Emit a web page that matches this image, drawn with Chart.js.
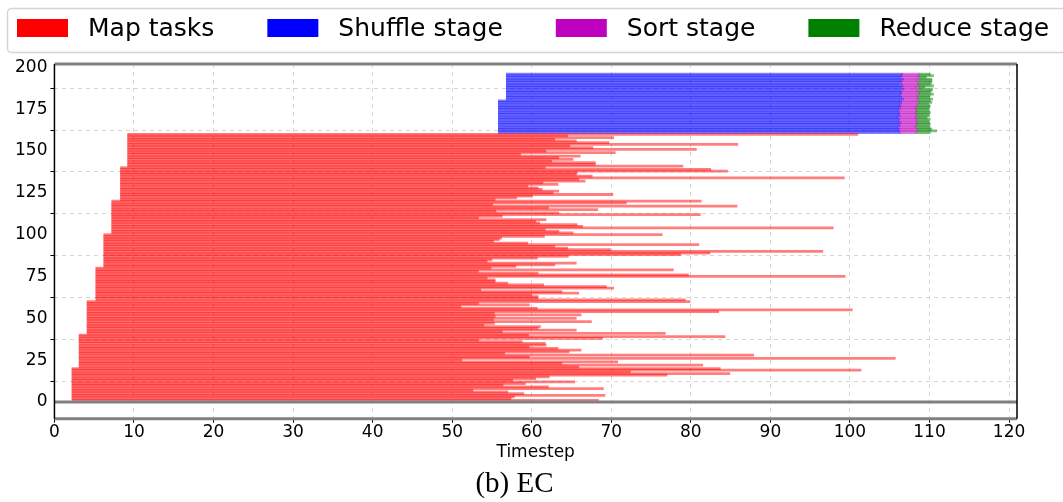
<!DOCTYPE html>
<html>
<head>
<meta charset="utf-8">
<script src="https://cdn.jsdelivr.net/npm/chart.js@4.4.1/dist/chart.umd.min.js"></script>
<style>
  html, body { margin: 0; padding: 0; background: #fff; }
  #wrap { width: 1063px; height: 502px; position: relative; }
</style>
</head>
<body>
<div id="wrap"><canvas id="chart"></canvas></div>
<script>
// Legend entries
const legendLabels = ['Map tasks', 'Shuffle stage', 'Sort stage', 'Reduce stage'];
const legendColors = ['#ff0000', '#0000ff', '#bf00bf', '#008000'];

// Axis ticks
const xTicks = [0, 10, 20, 30, 40, 50, 60, 70, 80, 90, 100, 110, 120];
const yTicks = [0, 25, 50, 75, 100, 125, 150, 175, 200];

// Map tasks 1..160, started in waves of 20
const mapWaveStart = [2.2, 3.1, 4.1, 5.2, 6.2, 7.2, 8.3, 9.2];
// End time of each map task, listed from the top row (task 160) down to task 1
const mapEndFromTop = [
  101.0, 64.5, 70.3, 62.9, 65.6, 69.7, 85.9, 64.8, 67.7, 80.7,
  61.8, 70.5, 58.6, 66.1, 63.4, 65.2, 62.5, 68.0, 68.0, 79.0,
  61.7, 82.5, 84.6, 65.7, 65.6, 67.6, 99.3, 65.9, 66.7, 61.4,
  63.3, 59.5, 60.8, 61.3, 63.4, 62.7, 70.2, 60.1, 58.1, 55.4,
  81.3, 71.9, 55.1, 85.8, 62.1, 68.3, 55.5, 63.4, 81.2, 56.3,
  53.3, 61.8, 60.5, 61.0, 65.7, 66.4, 97.9, 61.7, 63.4, 65.2,
  76.4, 61.6, 56.2, 55.9, 55.2, 59.5, 81.0, 62.9, 64.5, 69.9,
  96.6, 82.4, 78.7, 64.6, 60.7, 55.0, 54.4, 65.6, 62.9, 58.0,
  54.9, 77.8, 53.3, 60.8, 79.7, 99.4, 54.4, 55.4, 55.4, 57.0,
  61.5, 69.4, 70.3, 53.6, 63.8, 65.9, 60.0, 60.8, 60.8, 79.3,
  79.9, 53.3, 59.7, 51.1, 60.7, 100.3, 83.5, 55.3, 66.2, 55.4,
  65.6, 55.2, 67.5, 55.3, 54.0, 61.1, 60.8, 65.6, 56.3, 76.8,
  59.6, 84.3, 68.9, 53.3, 58.8, 61.7, 61.8, 59.7, 63.3, 66.2,
  64.7, 56.6, 87.9, 59.7, 105.7, 51.2, 70.8, 63.8, 81.5, 65.9,
  83.7, 101.4, 72.4, 84.9, 77.0, 62.2, 60.5, 57.6, 65.4, 59.2,
  56.4, 62.1, 69.0, 52.6, 57.0, 59.0, 69.2, 57.8, 57.4, 68.4
];

// Reduce tasks 161..196: tasks 161-180 start shuffling at 55.8, 181-196 at 56.8
const shuffleWaveStart = [55.8, 56.8];
const shuffleWaveSize = 20;
// Stage boundaries, listed from the top row (task 196) down to task 161
const shuffleEndFromTop = [
  106.6, 106.5, 106.3, 106.7, 106.4, 106.5, 106.1, 106.6, 106.4, 106.7,
  106.3, 106.5, 106.4, 106.2, 106.5, 106.7, 106.3, 106.5, 106.2, 106.4,
  106.1, 106.3, 106.0, 106.2, 106.1, 106.3, 106.0, 106.2, 106.1, 106.4,
  106.1, 106.3, 106.0, 106.2, 106.1, 106.3
];
const sortEndFromTop = [
  108.6, 108.7, 108.5, 108.8, 108.4, 108.6, 108.5, 108.7, 108.2, 108.8,
  108.4, 108.6, 108.7, 108.4, 108.5, 108.6, 108.3, 108.7, 108.5, 108.4,
  108.2, 108.3, 108.4, 108.2, 108.3, 108.5, 108.2, 108.4, 108.3, 108.5,
  108.4, 108.3, 108.2, 108.5, 108.4, 108.3
];
const reduceEndFromTop = [
  110.1, 110.5, 109.6, 110.3, 110.3, 110.3, 110.1, 110.5, 109.4, 110.4,
  110.3, 110.1, 110.5, 110.1, 110.0, 110.4, 110.1, 110.3, 109.9, 110.1,
  110.0, 109.9, 110.0, 110.1, 109.9, 110.0, 109.7, 110.1, 109.9, 110.0,
  110.1, 110.0, 110.1, 110.3, 110.9, 110.1
];

// Build floating bar rows (y = task number)
const mapEnd = mapEndFromTop.slice().reverse();
const mapRows = mapEnd.map((end, i) => ({ y: i + 1, x: [mapWaveStart[Math.floor(i / 20)], end] }));

const shuffleEnd = shuffleEndFromTop.slice().reverse();
const sortEnd = sortEndFromTop.slice().reverse();
const reduceEnd = reduceEndFromTop.slice().reverse();
const firstReduceTask = mapEnd.length + 1;
const shuffleRows = shuffleEnd.map((end, j) => ({
  y: firstReduceTask + j,
  x: [shuffleWaveStart[Math.floor(j / shuffleWaveSize)], end]
}));
const sortRows = sortEnd.map((end, j) => ({ y: firstReduceTask + j, x: [shuffleEnd[j], end] }));
const reduceRows = reduceEnd.map((end, j) => ({ y: firstReduceTask + j, x: [sortEnd[j], end] }));

const FONT = "'DejaVu Sans', sans-serif";

function barSet(label, rows, rgb) {
  return {
    label: label,
    data: rows,
    backgroundColor: `rgba(${rgb}, 0.5)`,
    borderWidth: 0,
    barThickness: 2.1,
    grouped: false
  };
}

// Draws the framed legend, the spines and the y=0 line
const decorPlugin = {
  id: 'decor',
  afterDatasetsDraw(chart) {
    const { ctx, chartArea: a, scales } = chart;
    const y0 = scales.y.getPixelForValue(0);
    ctx.save();
    ctx.strokeStyle = '#808080';
    ctx.lineWidth = 3;
    ctx.beginPath();
    ctx.moveTo(a.left, y0); ctx.lineTo(a.right, y0);
    ctx.moveTo(a.left, a.top); ctx.lineTo(a.right, a.top);
    ctx.moveTo(a.left, a.bottom); ctx.lineTo(a.right, a.bottom);
    ctx.stroke();
    ctx.strokeStyle = '#000';
    ctx.lineWidth = 1.5;
    ctx.beginPath();
    ctx.moveTo(a.left, a.top); ctx.lineTo(a.left, a.bottom);
    ctx.moveTo(a.right, a.top); ctx.lineTo(a.right, a.bottom);
    ctx.stroke();
    ctx.restore();
  },
  afterDraw(chart) {
    const ctx = chart.ctx;
    ctx.save();
    // legend frame (runs off the right edge like the original)
    ctx.strokeStyle = '#d4d4d4';
    ctx.lineWidth = 1.5;
    ctx.beginPath();
    ctx.roundRect(7.5, 8.5, chart.width + 20, 44, 4);
    ctx.stroke();
    ctx.font = `25px ${FONT}`;
    ctx.textBaseline = 'middle';
    let x = 17;
    legendLabels.forEach((label, i) => {
      ctx.fillStyle = legendColors[i];
      ctx.fillRect(x, 19, 51, 18);
      ctx.fillStyle = '#000';
      ctx.fillText(label, x + 71, 29);
      x += 71 + ctx.measureText(label).width + 53;
    });
    ctx.restore();
  }
};

const gridStyle = {
  color: 'rgba(190,190,190,0.6)',
  lineWidth: 1,
  tickColor: '#000',
  tickLength: 4,
  tickWidth: 1
};

new Chart(document.getElementById('chart'), {
  type: 'bar',
  plugins: [decorPlugin],
  data: {
    datasets: [
      barSet('Map tasks', mapRows, '255,0,0'),
      barSet('Shuffle stage', shuffleRows, '0,0,255'),
      barSet('Sort stage', sortRows, '191,0,191'),
      barSet('Reduce stage', reduceRows, '0,128,0')
    ]
  },
  options: {
    indexAxis: 'y',
    animation: false,
    responsive: true,
    maintainAspectRatio: false,
    layout: { padding: { top: 64, left: 12, right: 46, bottom: 0 } },
    scales: {
      x: {
        type: 'linear',
        min: 0,
        max: 121,
        afterBuildTicks: (scale) => { scale.ticks = xTicks.map(v => ({ value: v })); },
        ticks: { color: '#000', font: { family: FONT, size: 17, lineHeight: 1.1 }, padding: 1, maxRotation: 0 },
        grid: gridStyle,
        border: { display: false, dash: [4, 4] },
        title: { display: true, text: 'Timestep', color: '#000', font: { family: FONT, size: 17, lineHeight: 1.1 }, padding: { top: 0, bottom: 0 } }
      },
      y: {
        type: 'linear',
        offset: false,
        min: -10,
        max: 202,
        afterBuildTicks: (scale) => { scale.ticks = yTicks.map(v => ({ value: v })); },
        ticks: { color: '#000', font: { family: FONT, size: 17 }, padding: 3 },
        grid: gridStyle,
        border: { display: false, dash: [4, 4] }
      }
    },
    plugins: {
      legend: { display: false },
      tooltip: { enabled: false },
      title: {
        display: true,
        position: 'bottom',
        text: '(b) EC',
        color: '#000',
        font: { family: "'Liberation Serif', serif", size: 29, weight: 'normal', lineHeight: 1.1 },
        padding: { top: 6, bottom: 2 }
      }
    }
  }
});
</script>
</body>
</html>
